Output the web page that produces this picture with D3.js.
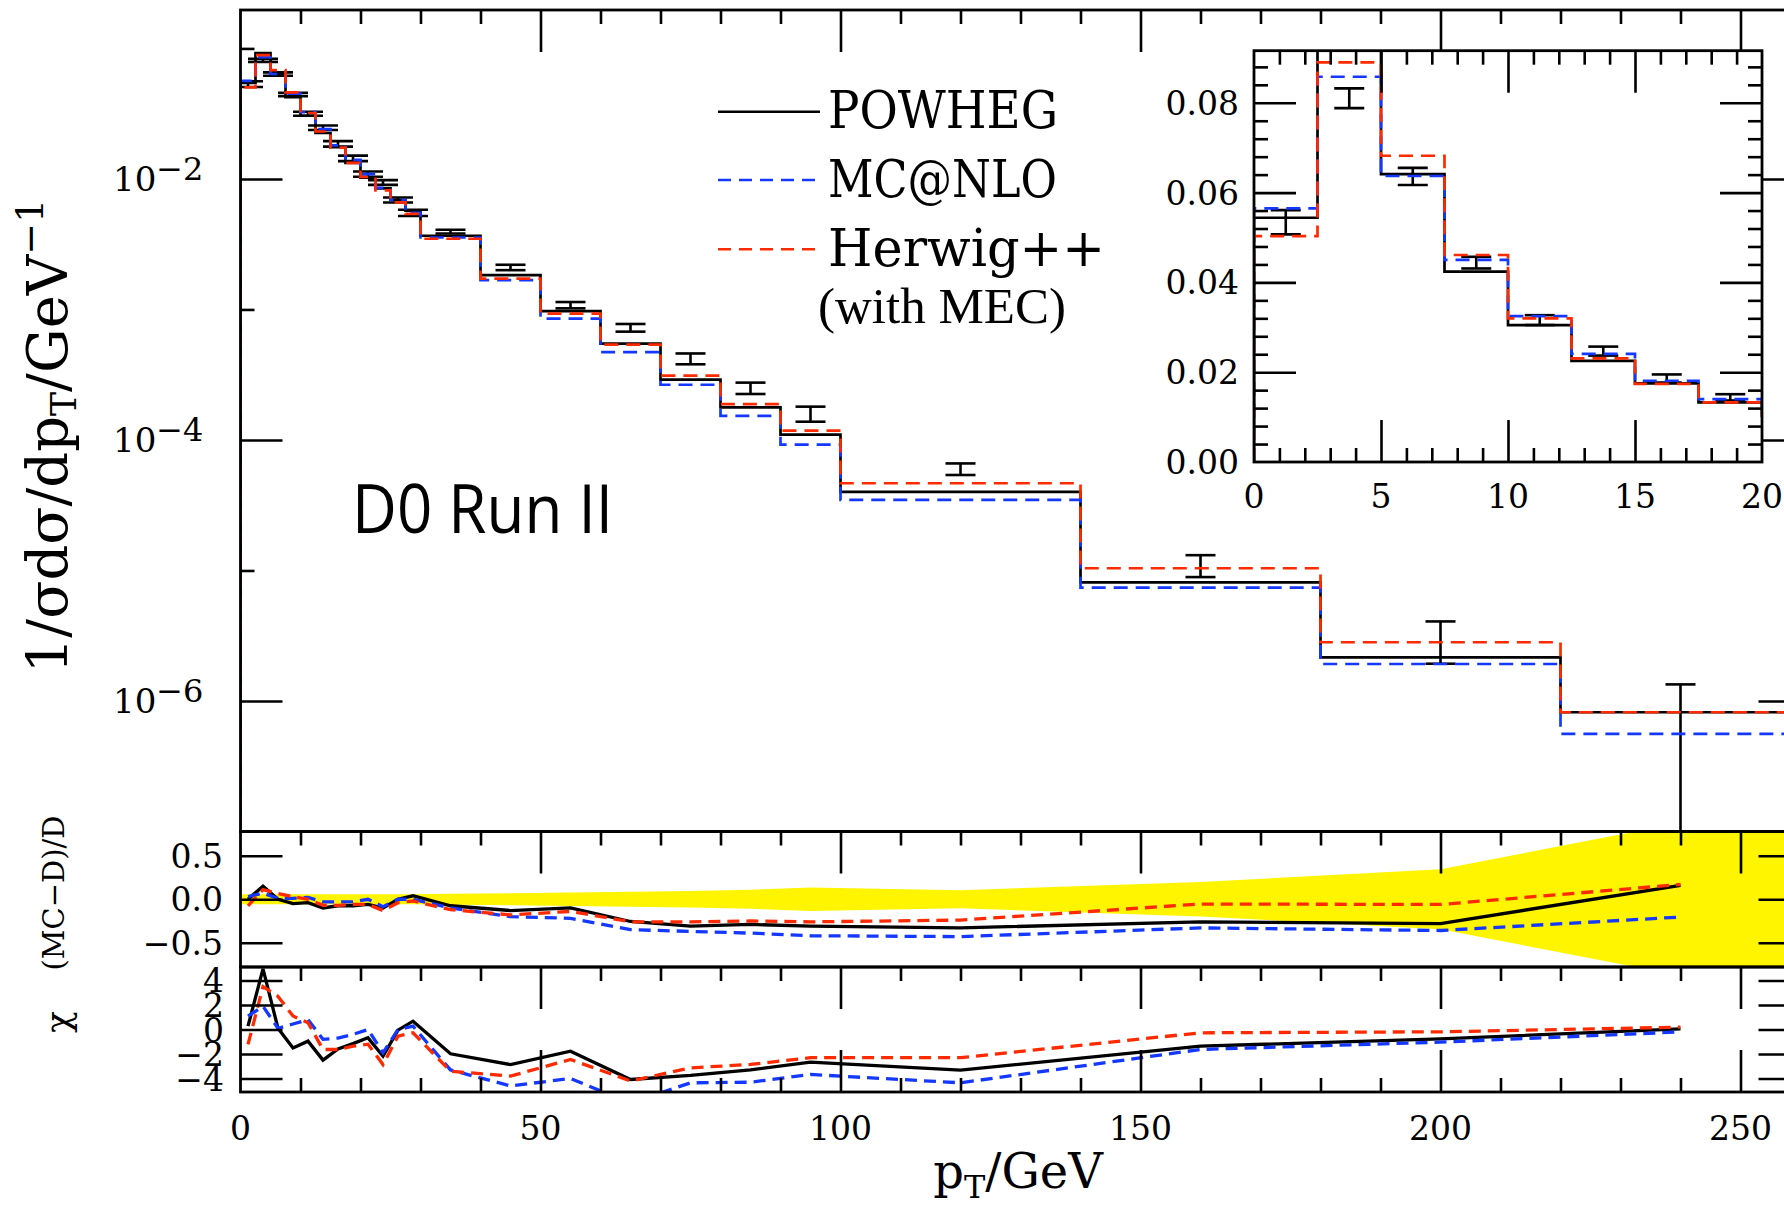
<!DOCTYPE html>
<html>
<head>
<meta charset="utf-8">
<script src="https://cdn.jsdelivr.net/npm/d3@7"></script>
<style>
  body { margin: 0; background: #fff; }
  svg text { font-family: "DejaVu Serif", serif; fill: #000; }
</style>
</head>
<body>
<div id="chart"></div>
<script>
// pT bins (GeV)
const binEdges = [0, 2.5, 5, 7.5, 10, 12.5, 15, 17.5, 20, 22.5, 25, 27.5, 30, 40, 50, 60, 70, 80, 90, 100, 140, 180, 220, 260];
const binCenters = [1.25, 3.75, 6.25, 8.75, 11.25, 13.75, 16.25, 18.75, 21.25, 23.75, 26.25, 28.75, 35, 45, 55, 65, 75, 85, 95, 120, 160, 200, 240];

// D0 Run II data
const dataVal = [0.0534, 0.0810, 0.0636, 0.0444, 0.0316, 0.0247, 0.0186, 0.0144, 0.0109, 0.0094, 0.0069, 0.0055, 0.00395, 0.0021, 0.00108, 0.000725, 0.00042, 0.00025, 0.000159, 6.0e-5, 1.1e-5, 3.0e-6, 7.0e-7];
const dataErr = [0.0027, 0.0022, 0.0019, 0.0013, 0.0011, 0.0010, 0.0009, 0.0007, 0.0005, 0.0004, 0.0003, 0.0003, 0.00013, 0.0001, 0.00006, 0.000049, 0.00004, 0.000025, 0.000021, 6.1e-6, 2.1e-6, 1.07e-6, 6.4e-7];

// generator predictions
const powheg = [0.0544, 0.0920, 0.0641, 0.0424, 0.0305, 0.0225, 0.0175, 0.0133, 0.01025, 0.00846, 0.0069, 0.00572, 0.00367, 0.00183, 0.00097, 0.000547, 0.00029, 0.000178, 0.00011, 4.0e-5, 8.1e-6, 2.16e-6, 8.2e-7];
const mcatnlo = [0.0565, 0.0858, 0.0637, 0.0450, 0.0325, 0.0241, 0.0181, 0.0140, 0.0109, 0.00855, 0.0069, 0.0055, 0.00356, 0.00168, 0.00085, 0.000471, 0.000265, 0.000153, 0.0000922, 3.47e-5, 7.4e-6, 1.92e-6, 5.6e-7];
const herwig = [0.0503, 0.0890, 0.0682, 0.0461, 0.0320, 0.0231, 0.0174, 0.0133, 0.01035, 0.00818, 0.00662, 0.00539, 0.00348, 0.00172, 0.00093, 0.000537, 0.000311, 0.000188, 0.000118, 4.66e-5, 1.04e-5, 2.82e-6, 8.2e-7];

// (MC-D)/D panel
const ratioPowheg = [0.0, 0.15, 0.0, -0.05, -0.04, -0.10, -0.075, -0.075, -0.06, -0.10, 0.0, 0.04, -0.075, -0.13, -0.10, -0.256, -0.31, -0.29, -0.31, -0.33, -0.26, -0.28, 0.16];
const ratioMcnlo = [0.03, 0.07, 0.01, 0.01, 0.02, -0.03, -0.03, -0.03, 0.0, -0.085, 0.0, 0.0, -0.10, -0.20, -0.22, -0.35, -0.37, -0.39, -0.42, -0.43, -0.33, -0.36, -0.205];
const ratioHerwig = [-0.075, 0.11, 0.065, 0.03, 0.0, -0.07, -0.07, -0.06, -0.06, -0.13, -0.04, -0.02, -0.12, -0.18, -0.14, -0.26, -0.26, -0.25, -0.26, -0.24, -0.055, -0.06, 0.17];
// data uncertainty band, given at the bin edges 0 and 260 and the bin centres between
const bandX = [0, 1.25, 3.75, 6.25, 8.75, 11.25, 13.75, 16.25, 18.75, 21.25, 23.75, 26.25, 28.75, 35, 45, 55, 65, 75, 85, 95, 120, 160, 200, 240, 260];
const bandErr = [0.058, 0.058, 0.058, 0.058, 0.058, 0.058, 0.058, 0.058, 0.058, 0.058, 0.058, 0.058, 0.058, 0.062, 0.07, 0.077, 0.085, 0.095, 0.11, 0.135, 0.105, 0.2, 0.345, 0.88, 0.88];

// chi panel
const chiPowheg = [0.27, 4.95, 0.1, -1.5, -0.95, -2.5, -1.58, -1.15, -0.68, -2.18, -0.05, 0.68, -1.98, -2.86, -1.77, -4.08, -3.75, -3.3, -2.67, -3.32, -1.36, -0.76, 0.05];
const chiMcnlo = [1.09, 1.9, 0.1, 0.45, 0.8, -0.8, -0.7, -0.4, 0.0, -1.9, 0.0, 0.27, -3.3, -4.6, -4.0, -6.0, -4.35, -4.3, -3.67, -4.35, -1.63, -1.03, -0.2];
const chiHerwig = [-1.22, 3.5, 2.7, 1.1, 0.55, -1.63, -1.63, -1.36, -1.2, -2.86, -0.54, -0.27, -3.4, -3.8, -2.45, -4.2, -3.13, -2.85, -2.3, -2.3, -0.27, -0.19, 0.19];

// tick labels
const xTickLabels = [0, 50, 100, 150, 200, 250];
const mainYExponents = [-2, -4, -6];
const ratioTickLabels = [0.5, 0, -0.5];
const chiTickLabels = [4, 2, 0, -2, -4];
const insetXLabels = [0, 5, 10, 15, 20];
const insetYLabels = [0, 0.02, 0.04, 0.06, 0.08];

var width = 1784, height = 1205,
  frameW = 2.8, tickW = 2.6, majorLen = 42, minorLen = 14;

const series = [
  { vals: powheg, ratio: ratioPowheg, chi: chiPowheg, color: "#000", dash: null },
  { vals: mcatnlo, ratio: ratioMcnlo, chi: chiMcnlo, color: "#1438ff", dash: "14,8" },
  { vals: herwig, ratio: ratioHerwig, chi: chiHerwig, color: "#ff2a00", dash: "14,8" }
];

const x = d3.scaleLinear().domain([0, 260]).range([240.5, 1800.5]);
const y = d3.scaleLog().domain([1e-7, 0.197]).range([831.5, 10]);
const yR = d3.scaleLinear().domain([-0.78, 0.78]).range([967, 831.5]);
const yC = d3.scaleLinear().domain([-5.1, 5.1]).range([1092, 967]);
const xi = d3.scaleLinear().domain([0, 20]).range([1254, 1762]);
const yi = d3.scaleLinear().domain([0, 0.0916]).range([462, 50.7]);

const svg = d3.select("#chart").append("svg")
  .attr("width", width).attr("height", height)
  .style("background", "#fff");

const defs = svg.append("defs");
function clip(id, x0, y0, x1, y1) {
  defs.append("clipPath").attr("id", id).append("rect")
    .attr("x", x0).attr("y", y0).attr("width", x1 - x0).attr("height", y1 - y0);
  return "url(#" + id + ")";
}
const clipMain = clip("cmain", x(0), y.range()[1], x(260), y.range()[0]);
const clipRatio = clip("cratio", x(0), yR.range()[1], x(260), yR.range()[0]);
const clipChi = clip("cchi", x(0), yC.range()[1], x(260), yC.range()[0]);
const clipInset = clip("cinset", xi(0), yi(0.0916), xi(20), yi(0));

// step histogram points, starting from the floor at x=0
function stepPoints(vals, floor) {
  const pts = [[0, floor]];
  vals.forEach((v, i) => pts.push([binEdges[i], v]));
  pts.push([binEdges[binEdges.length - 1], vals[vals.length - 1]]);
  return pts;
}

function ticks(orient, scale, pos, values, len) {
  const axis = { top: d3.axisTop, bottom: d3.axisBottom, left: d3.axisLeft, right: d3.axisRight }[orient];
  const tr = (orient === "top" || orient === "bottom") ? `translate(0,${pos})` : `translate(${pos},0)`;
  const g = svg.append("g").attr("transform", tr)
    .call(axis(scale).tickValues(values).tickSize(-len).tickFormat(""));
  g.select(".domain").remove();
  g.selectAll("line").attr("stroke", "#000").attr("stroke-width", tickW);
}

function errorBars(g, sx, sy, capW, floor) {
  const pts = binCenters.map((c, i) => ({ c: c, v: dataVal[i], e: dataErr[i] }));
  const eb = g.append("g").selectAll("g").data(pts).join("g")
    .attr("stroke", "#000").attr("stroke-width", 2.6);
  eb.append("line")
    .attr("x1", d => sx(d.c)).attr("x2", d => sx(d.c))
    .attr("y1", d => sy(d.v + d.e)).attr("y2", d => sy(Math.max(d.v - d.e, floor)));
  eb.append("line")
    .attr("x1", d => sx(d.c) - capW / 2).attr("x2", d => sx(d.c) + capW / 2)
    .attr("y1", d => sy(d.v + d.e)).attr("y2", d => sy(d.v + d.e));
  eb.filter(d => d.v - d.e > floor).append("line")
    .attr("x1", d => sx(d.c) - capW / 2).attr("x2", d => sx(d.c) + capW / 2)
    .attr("y1", d => sy(d.v - d.e)).attr("y2", d => sy(d.v - d.e));
}

// ---------- main panel ----------
const main = svg.append("g").attr("clip-path", clipMain);
errorBars(main, x, y, 30, 1e-9);
series.forEach(s => {
  main.append("path")
    .datum(stepPoints(s.vals, 1e-7))
    .attr("d", d3.line().x(d => x(d[0])).y(d => y(d[1])).curve(d3.curveStepAfter))
    .attr("fill", "none").attr("stroke", s.color).attr("stroke-width", 2.7)
    .attr("stroke-dasharray", s.dash);
});

// ---------- ratio panel ----------
const ratio = svg.append("g").attr("clip-path", clipRatio);
ratio.append("path")
  .datum(bandX.map((c, i) => [c, bandErr[i]]))
  .attr("d", d3.area().x(d => x(d[0])).y0(d => yR(-d[1])).y1(d => yR(d[1])))
  .attr("fill", "#fff500");
series.forEach(s => {
  ratio.append("path")
    .datum(binCenters.map((c, i) => [c, s.ratio[i]]))
    .attr("d", d3.line().x(d => x(d[0])).y(d => yR(d[1])))
    .attr("fill", "none").attr("stroke", s.color).attr("stroke-width", 3.3)
    .attr("stroke-dasharray", s.dash ? "12,7" : null);
});

// ---------- chi panel ----------
const chi = svg.append("g").attr("clip-path", clipChi);
series.forEach(s => {
  chi.append("path")
    .datum(binCenters.map((c, i) => [c, s.chi[i]]))
    .attr("d", d3.line().x(d => x(d[0])).y(d => yC(d[1])))
    .attr("fill", "none").attr("stroke", s.color).attr("stroke-width", 3.3)
    .attr("stroke-dasharray", s.dash ? "12,7" : null);
});

// frames
[[y.range()[1], y.range()[0]], [yR.range()[1], yR.range()[0]], [yC.range()[1], yC.range()[0]]].forEach(r => {
  svg.append("rect").attr("x", x(0)).attr("y", r[0])
    .attr("width", x(260) - x(0)).attr("height", r[1] - r[0])
    .attr("fill", "none").attr("stroke", "#000").attr("stroke-width", frameW);
});

// x ticks
const xMinor = d3.range(10, 260, 10).filter(v => v % 50 !== 0);
const xMajor = [50, 100, 150, 200, 250];
[y.range()[1], yR.range()[1], yC.range()[1]].forEach(top => {
  ticks("top", x, top, xMinor, minorLen);
  ticks("top", x, top, xMajor, majorLen);
});
ticks("bottom", x, yC.range()[0], xMinor, minorLen);
ticks("bottom", x, yC.range()[0], xMajor, majorLen);

// y ticks
[["left", x(0)], ["right", x(260)]].forEach(p => {
  ticks(p[0], y, p[1], [1e-1, 1e-3, 1e-5], minorLen);
  ticks(p[0], y, p[1], [1e-2, 1e-4, 1e-6], majorLen);
  ticks(p[0], yR, p[1], ratioTickLabels, majorLen);
  ticks(p[0], yC, p[1], chiTickLabels, majorLen);
});

// tick labels
const minus = v => String(v).replace("-", "\u2212");
svg.append("g").selectAll("text").data(xTickLabels).join("text")
  .attr("x", d => x(d)).attr("y", 1140).attr("text-anchor", "middle")
  .attr("font-size", 33).text(d => d);

const yl = svg.append("g").selectAll("text").data(mainYExponents).join("text")
  .attr("x", 113).attr("y", d => y(Math.pow(10, d)) + 12)
  .attr("font-size", 34);
yl.append("tspan").text("10");
yl.append("tspan").attr("dy", -11).attr("font-size", 32).text(d => minus(d));

svg.append("g").selectAll("text").data(ratioTickLabels).join("text")
  .attr("x", 223).attr("y", d => yR(d) + 12).attr("text-anchor", "end")
  .attr("font-size", 33).text(d => minus(d3.format(".1f")(d)));

svg.append("g").selectAll("text").data(chiTickLabels).join("text")
  .attr("x", 224).attr("y", d => yC(d) + 12).attr("text-anchor", "end")
  .attr("font-size", 33).text(d => minus(d));

// axis titles
svg.append("text")
  .attr("transform", "translate(67,436) rotate(-90)")
  .attr("text-anchor", "middle").attr("font-size", 56)
  .call(t => {
    t.append("tspan").text("1/\u03c3d\u03c3/dp");
    t.append("tspan").attr("font-size", 36).attr("dy", 9).text("T");
    t.append("tspan").attr("dy", -9).text("/GeV");
    t.append("tspan").attr("font-size", 38).attr("dy", -24).text("\u22121");
  });
svg.append("text")
  .attr("transform", "translate(64,893) rotate(-90)")
  .attr("text-anchor", "middle").attr("font-size", 29)
  .text("(MC\u2212D)/D");
svg.append("text")
  .attr("transform", "translate(70,1022) rotate(-90)")
  .attr("text-anchor", "middle").attr("font-size", 36)
  .text("\u03c7");
svg.append("text")
  .attr("x", 1018).attr("y", 1188).attr("text-anchor", "middle").attr("font-size", 48)
  .call(t => {
    t.append("tspan").text("p");
    t.append("tspan").attr("font-size", 32).attr("dy", 10).text("T");
    t.append("tspan").attr("dy", -10).text("/GeV");
  });

// D0 label
svg.append("text")
  .attr("x", 352).attr("y", 533)
  .attr("font-size", 67).style("font-family", "'Open Sans', sans-serif")
  .attr("textLength", 261).attr("lengthAdjust", "spacingAndGlyphs")
  .text("D0 Run II");

// legend
const legendNames = ["POWHEG", "MC@NLO", "Herwig++"];
const legendLineY = [111.7, 180, 249.3];
const legendTextLen = [230, 229, 277];
series.forEach((s, i) => {
  svg.append("line")
    .attr("x1", 718).attr("x2", 820).attr("y1", legendLineY[i]).attr("y2", legendLineY[i])
    .attr("stroke", s.color).attr("stroke-width", 2.6)
    .attr("stroke-dasharray", s.dash ? "13,8" : null);
  svg.append("text")
    .attr("x", 828).attr("y", legendLineY[i] + 16.5)
    .attr("font-size", 53)
    .attr("textLength", legendTextLen[i]).attr("lengthAdjust", "spacingAndGlyphs")
    .text(legendNames[i]);
});
svg.append("text")
  .attr("x", 818).attr("y", 323)
  .attr("font-size", 51).style("font-family", "'Liberation Serif', serif")
  .text("(with MEC)");

// ---------- inset ----------
svg.append("rect")
  .attr("x", xi(0)).attr("y", yi(0.0916))
  .attr("width", xi(20) - xi(0)).attr("height", yi(0) - yi(0.0916))
  .attr("fill", "#fff");
const inset = svg.append("g").attr("clip-path", clipInset);
errorBars(inset, xi, yi, 30, -1);
series.forEach(s => {
  inset.append("path")
    .datum(stepPoints(s.vals, 0))
    .attr("d", d3.line().x(d => xi(d[0])).y(d => yi(d[1])).curve(d3.curveStepAfter))
    .attr("fill", "none").attr("stroke", s.color).attr("stroke-width", 2.7)
    .attr("stroke-dasharray", s.dash);
});
svg.append("rect")
  .attr("x", xi(0)).attr("y", yi(0.0916))
  .attr("width", xi(20) - xi(0)).attr("height", yi(0) - yi(0.0916))
  .attr("fill", "none").attr("stroke", "#000").attr("stroke-width", frameW);

const ixMinor = d3.range(1, 20).filter(v => v % 5 !== 0);
const ixMajor = [5, 10, 15];
ticks("top", xi, yi(0.0916), ixMinor, minorLen);
ticks("top", xi, yi(0.0916), ixMajor, majorLen);
ticks("bottom", xi, yi(0), ixMinor, minorLen);
ticks("bottom", xi, yi(0), ixMajor, majorLen);
const iyAll = d3.range(1, 23).map(i => i * 0.004);
const iyMinor = iyAll.filter((v, i) => (i + 1) % 5 !== 0);
const iyMajor = iyAll.filter((v, i) => (i + 1) % 5 === 0);
[["left", xi(0)], ["right", xi(20)]].forEach(p => {
  ticks(p[0], yi, p[1], iyMinor, minorLen);
  ticks(p[0], yi, p[1], iyMajor, majorLen);
});

svg.append("g").selectAll("text").data(insetYLabels).join("text")
  .attr("x", 1239).attr("y", d => yi(d) + 12).attr("text-anchor", "end")
  .attr("font-size", 33).text(d => d3.format(".2f")(d));
svg.append("g").selectAll("text").data(insetXLabels).join("text")
  .attr("x", d => xi(d)).attr("y", 508).attr("text-anchor", "middle")
  .attr("font-size", 33).text(d => d);
</script>
</body>
</html>
